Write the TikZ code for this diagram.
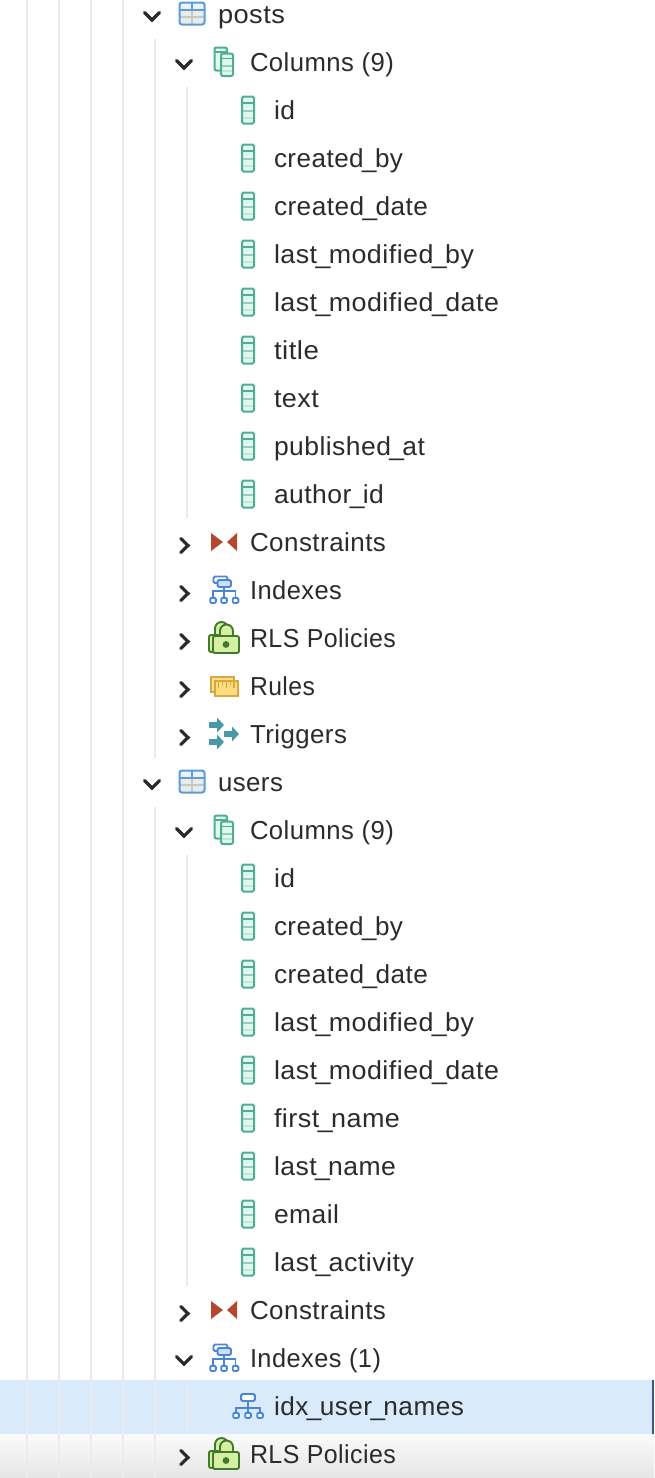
\documentclass[tikz,border=0pt]{standalone}
\usepackage{graphicx}
\usepackage{fontspec}
\setmainfont{Liberation Sans}[LetterSpace=1.8]
\newcommand{\us}{\kern-1.6pt\_\kern-1.6pt}
\newcommand{\fitw}[2]{\resizebox{#1pt}{\height}{#2}}
\definecolor{txt}{HTML}{2B2B2B}
\definecolor{guide}{HTML}{E9EBEF}
\definecolor{selrow}{HTML}{D9EBFA}
\definecolor{selbar}{HTML}{34598C}
\definecolor{colline}{HTML}{4FAE92}
\definecolor{colfill}{HTML}{DFF8F0}
\definecolor{tblue}{HTML}{5A9BE0}
\definecolor{idxblue}{HTML}{4A86D8}
\definecolor{idxfill}{HTML}{C9E0F7}
\definecolor{conred}{HTML}{B5482A}
\definecolor{lockline}{HTML}{3F7A2C}
\definecolor{lockfill}{HTML}{D6EFA2}
\definecolor{rulline}{HTML}{DBA83D}
\definecolor{rulfill}{HTML}{FBDC7E}
\definecolor{trig}{HTML}{4A97A8}
\tikzset{
  x=1pt,y=-1pt,
  label/.style={anchor=base west,inner sep=0pt,outer sep=0pt,text=txt,font=\fontsize{26}{30}\selectfont},
  guideline/.style={draw=guide,line width=1.7pt},
  chev/.style={draw=txt,line width=3.2pt,line cap=round,line join=miter},
  pics/down/.style={code={\draw[chev] (-7.5,-3.5) -- (0,4) -- (7.5,-3.5);}},
  pics/right/.style={code={\draw[chev] (-3.2,-6.5) -- (4,0.5) -- (-3.2,7.5);}},
  pics/col/.style={code={
    \draw[colline,fill=colfill,line width=2pt,rounded corners=1.5pt] (-6,-13.5) rectangle (6,13.5);
    \draw[colline,line width=2pt] (-6,-7) -- (6,-7);
    \draw[colline!60,line width=1.8pt] (-5,1) -- (5,1);
    \draw[colline!35,line width=1.2pt] (-5,8) -- (5,8);
  }},
  pics/cols/.style={code={
    \draw[colline,fill=colfill,line width=2pt,rounded corners=2pt] (-11.5,-14.5) rectangle (1,8.5);
    \draw[colline,line width=1.8pt] (-11.5,-10) -- (1,-10);
    \draw[colline,fill=colfill,line width=2pt,rounded corners=2pt] (-5,-8.5) rectangle (7,14);
    \draw[colline,line width=1.8pt] (-5,-3.5) -- (7,-3.5);
    \draw[colline!60,line width=1.4pt] (-4,4) -- (6,4);
    \draw[colline!35,line width=1.2pt] (-4,9) -- (6,9);
  }},
  pics/tbl/.style={code={
    \fill[white!92!black] (-13,-12) rectangle (13,11);
    \fill[white!88!tblue] (-13,-12) rectangle (13,-4);
    \draw[white!78!black,line width=1.8pt] (-12,3) -- (12,3);
    \draw[white!78!black,line width=1.8pt] (0,-4) -- (0,10);
    \draw[tblue,line width=1.6pt] (-12,-4) -- (12,-4);
    \draw[tblue,line width=1.6pt] (0,-12) -- (0,-4);
    \draw[tblue,line width=2pt,rounded corners=2.5pt] (-12.5,-11.5) rectangle (12.5,10.5);
  }},
  pics/con/.style={code={
    \fill[conred] (211,-9) -- (223,0) -- (211,9) -- cycle;
    \fill[conred] (237,-9) -- (227,0) -- (237,9) -- cycle;
  }},
  idxparts/.style={draw=idxblue,line width=1.9pt},
  pics/idxs/.style={code={
    \draw[idxparts] (0,-3) -- (0,8) (-11,8) -- (-11,1) -- (11.5,1) -- (11.5,8);
    \foreach \q in {-11,0,11.5}{\draw[idxparts,fill=white,rounded corners=1.2pt] (\q-2.8,7.8) rectangle (\q+2.8,13);}
    \draw[idxparts,fill=white,rounded corners=1.5pt] (-10.5,-13.5) rectangle (3.5,-7);
    \draw[idxparts,fill=idxfill,rounded corners=1.5pt] (-6.5,-10) rectangle (7,-3);
  }},
  pics/idxone/.style={code={
    \draw[idxparts] (0,-5) -- (0,7) (-12,7) -- (-12,2) -- (12,2) -- (12,7);
    \foreach \q in {-12,0,12}{\draw[idxparts,fill=white,rounded corners=1.2pt] (\q-2.8,6.8) rectangle (\q+2.8,12);}
    \draw[idxparts,fill=white,rounded corners=1.5pt] (-7,-12) rectangle (7,-5);
  }},
  pics/lock/.style={code={
    \draw[lockline,fill=lockfill,line width=1.9pt] (-11,2) -- (-11,-9.5) arc[start angle=180,end angle=360,radius=6.5] -- (2,2) -- cycle;
    \draw[lockline,fill=lockfill,line width=1.9pt,rounded corners=2pt] (-17,-3) rectangle (-6,14);
    \draw[lockline,fill=lockfill,line width=1.9pt] (-6,2) -- (-6,-7) arc[start angle=180,end angle=360,radius=6.5] -- (7,2) -- cycle;
    \draw[lockline,fill=lockfill,line width=1.9pt,rounded corners=2pt] (-13,-2) rectangle (13,15);
    \fill[lockline] (0,6.5) circle[radius=3.4];
  }},
  pics/rul/.style={code={
    \draw[rulline,fill=rulfill!85!white,line width=2pt] (-15.5,-9.5) rectangle (8,5.5);
    \draw[rulline,fill=rulfill,line width=2pt] (-11.5,-5.5) rectangle (12,9.5);
    \foreach \q/\l in {-7.5/3,-3.5/0,0.5/3,4.5/0,8/3}{\draw[rulline,line width=1.5pt] (\q,-5.5) -- (\q,-1+\l);}
  }},
  pics/trg/.style={code={
    \foreach \dx/\dy in {0/-9,15/0,0/8}{
      \fill[trig,rounded corners=0.5pt] (-16+\dx,-2.8+\dy) -- (-8+\dx,-2.8+\dy) -- (-8+\dx,-7.5+\dy) -- (-1+\dx,0+\dy) -- (-8+\dx,7.5+\dy) -- (-8+\dx,2.8+\dy) -- (-16+\dx,2.8+\dy) -- cycle;
    }
  }},
}
\begin{document}
\begin{tikzpicture}
\useasboundingbox (0,0) rectangle (654,1478);
\fill[white] (0,0) rectangle (654,1478);
% bottom band and selection
\shade[top color=white!98!black,bottom color=white!90!black] (0,1434) rectangle (654,1478);
\fill[selrow] (0,1380) rectangle (654,1434);
\fill[selbar] (652,1380) rectangle (654,1434);
% guide lines
\foreach \gx in {27,59,91,123}{
  \draw[guideline] (\gx,0) -- (\gx,1380);
  \draw[guideline] (\gx,1382) -- (\gx,1478);
}
\draw[guideline] (155,39) -- (155,758);
\draw[guideline] (155,807) -- (155,1380);
\draw[guideline] (155,1382) -- (155,1478);
\draw[guideline] (187,87) -- (187,518);
\draw[guideline] (187,855) -- (187,1286);
\draw[guideline] (187,1383) -- (187,1430);
% table rows
\foreach \ry/\nm/\w/\tx in {14/a/67/posts,782/b/65/users}{
  \pic at (152,\ry+2) {down};
  \pic at (192,\ry) {tbl};
  \node[label] (t\nm) at (218,\ry+9) {\fitw{\w}{\tx}};
}
% columns groups
\foreach \ry/\nm in {62/a,830/b}{
  \pic at (184,\ry+2) {down};
  \pic at (226,\ry) {cols};
  \node[label] (c\nm) at (250,\ry+9) {\fitw{144}{Columns (9)}};
}
% column rows
\foreach \ry/\w/\tx [count=\i] in {110/21/id,158/129/created\us by,206/154/created\us date,254/200/last\us modified\us by,302/225/last\us modified\us date,350/45/title,398/45/text,446/151/published\us at,494/110/author\us id,
 878/21/id,926/129/created\us by,974/154/created\us date,1022/200/last\us modified\us by,1070/225/last\us modified\us date,1118/126/first\us name,1166/122/last\us name,1214/65/email,1262/140/last\us activity}{
  \pic at (248,\ry) {col};
  \node[label] (col\i) at (274,\ry+9) {\fitw{\w}{\tx}};
}
% collapsed groups
\foreach \ry/\nm in {542/a,1310/b}{
  \pic at (184,\ry+3) {right};
  \pic at (0,\ry) {con};
  \node[label] (con\nm) at (250,\ry+9) {\fitw{136}{Constraints}};
}
\pic at (184,593) {right};
\pic at (224,590) {idxs};
\node[label] (idxa) at (250,599) {\fitw{92}{Indexes}};
\foreach \ry/\nm in {638/a,1454/b}{
  \pic at (184,\ry+3) {right};
  \pic at (226,\ry) {lock};
  \node[label] (rls\nm) at (250,\ry+9) {\fitw{146}{RLS Policies}};
}
\pic at (184,689) {right};
\pic at (226,686) {rul};
\node[label] (rul) at (250,695) {\fitw{65}{Rules}};
\pic at (184,737) {right};
\pic at (225,734) {trg};
\node[label] (trg) at (250,743) {\fitw{97}{Triggers}};
\pic at (184,1360) {down};
\pic at (224,1358) {idxs};
\node[label] (idxb) at (250,1367) {\fitw{131}{Indexes (1)}};
\pic at (248,1406) {idxone};
\node[label] (idxn) at (274,1415) {\fitw{190}{idx\us user\us names}};
\end{tikzpicture}
\end{document}
